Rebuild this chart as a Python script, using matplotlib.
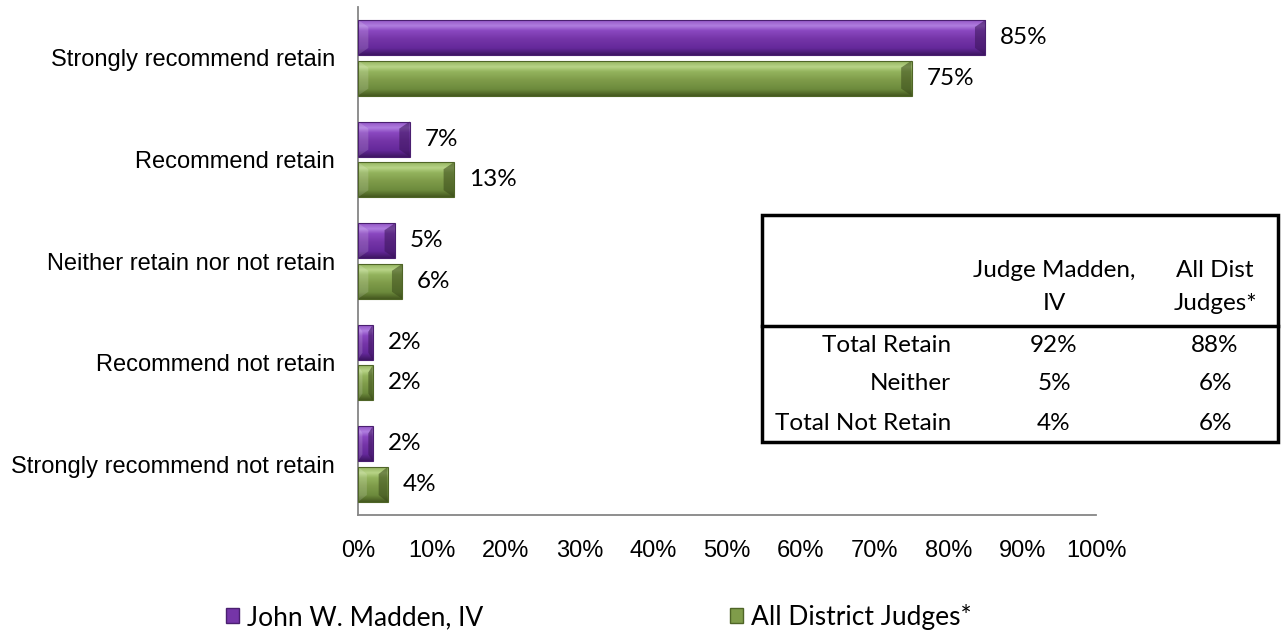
import numpy as np
import matplotlib
matplotlib.use("Agg")
import matplotlib.pyplot as plt
from matplotlib.patches import Patch, Rectangle
from matplotlib.colors import LinearSegmentedColormap
from matplotlib.lines import Line2D

categories = ["Strongly recommend retain", "Recommend retain", "Neither retain nor not retain",
              "Recommend not retain", "Strongly recommend not retain"]
madden = [85, 7, 5, 2, 2]
all_judges = [75, 13, 6, 2, 4]
series_names = ["John W. Madden, IV", "All District Judges*"]

table_header = ["Judge Madden,\nIV", "All Dist\nJudges*"]
table_rows = ["Total Retain", "Neither", "Total Not Retain"]
table_madden = ["92%", "5%", "4%"]
table_all = ["88%", "6%", "6%"]

W, H = 1287, 641
fig = plt.figure(figsize=(W / 100, H / 100), dpi=100)
ax = fig.add_axes([358 / W, 1 - 515 / H, (1096 - 358) / W, (515 - 7) / H])

# gradients, top -> bottom of each bar
purple_cmap = LinearSegmentedColormap.from_list("p", [
    (0.0, "#8e4fc0"), (0.18, "#b07ee0"), (0.32, "#8a48c0"),
    (0.55, "#7535a8"), (0.82, "#64289a"), (1.0, "#3f1663")])
green_cmap = LinearSegmentedColormap.from_list("g", [
    (0.0, "#8fae5a"), (0.18, "#b8d487"), (0.32, "#93b35d"),
    (0.55, "#7f9c4a"), (0.82, "#6c8a3c"), (1.0, "#45591f")])

y = np.arange(len(categories))
bar_h = 0.345
off = 0.2
grad = np.linspace(0, 1, 64).reshape(-1, 1)


def bevel_bars(values, ypos, cmap, edge, dark):
    bars = ax.barh(ypos, values, height=bar_h, color="none", edgecolor=edge, linewidth=0.8, zorder=3)
    for b in bars:
        x0, y0 = b.get_x(), b.get_y()
        w, h = b.get_width(), b.get_height()
        im = ax.imshow(grad, cmap=cmap, aspect="auto", extent=(x0, x0 + w, y0 + h, y0),
                       origin="upper", zorder=2, interpolation="bilinear")
        im.set_clip_path(b)
        ex = min(1.4, w * 0.3)
        # dark bevel on the right end, light one on the left
        ax.fill([x0 + w - ex, x0 + w, x0 + w, x0 + w - ex],
                [y0 + h * 0.2, y0, y0 + h, y0 + h * 0.8], color=dark, alpha=0.55, zorder=2.5, lw=0)
        ax.fill([x0, x0 + ex, x0 + ex, x0],
                [y0, y0 + h * 0.2, y0 + h * 0.8, y0 + h], color="white", alpha=0.15, zorder=2.5, lw=0)
    return bars


bevel_bars(madden, y - off, purple_cmap, "#4a1f70", "#3a1458")
bevel_bars(all_judges, y + off, green_cmap, "#4f6527", "#3a4a1a")

label_font = ["Lato", "DejaVu Sans"]
for i in range(len(categories)):
    ax.text(madden[i] + 2.0, y[i] - off, f"{madden[i]}%", va="center", ha="left",
            fontsize=17.5, family=label_font)
    ax.text(all_judges[i] + 2.0, y[i] + off, f"{all_judges[i]}%", va="center", ha="left",
            fontsize=17.5, family=label_font)

ax.set_xlim(0, 100)
ax.set_ylim(len(categories) - 0.5, -0.5)
ax.set_xticks(np.arange(0, 101, 10))
ax.set_xticklabels([f"{v}%" for v in range(0, 101, 10)], family="Liberation Sans", fontsize=17)
ax.set_yticks(y)
ax.set_yticklabels(categories, family="Liberation Sans", fontsize=17)
ax.tick_params(axis="x", length=0, pad=17.7)
ax.tick_params(axis="y", length=0, pad=16.5)
for s in ["top", "right"]:
    ax.spines[s].set_visible(False)
for s in ["left", "bottom"]:
    ax.spines[s].set_color("#868686")
    ax.spines[s].set_linewidth(1.3)

# summary table
tx0, tx1, ty0, ty1 = 762 / W, 1278 / W, 1 - 442 / H, 1 - 215 / H
fig.patches.append(Rectangle((tx0, ty0), tx1 - tx0, ty1 - ty0, transform=fig.transFigure,
                             fill=False, edgecolor="black", linewidth=2.5, zorder=5))
fig.lines.append(Line2D([tx0, tx1], [1 - 326 / H, 1 - 326 / H], transform=fig.transFigure,
                        color="black", linewidth=2.5))
col2_x, col3_x, rowlab_x = 1054 / W, 1215 / W, 951 / W
for cx, head in zip([col2_x, col3_x], table_header):
    fig.text(cx, 1 - 287 / H, head, ha="center", va="center", fontsize=17.5,
             family=label_font, linespacing=1.65)
row_y = [346, 384, 423]
for r, lab in enumerate(table_rows):
    fig.text(rowlab_x, 1 - row_y[r] / H, lab, ha="right", va="center", fontsize=17.5, family=label_font)
    fig.text(col2_x, 1 - row_y[r] / H, table_madden[r], ha="center", va="center", fontsize=17.5, family=label_font)
    fig.text(col3_x, 1 - row_y[r] / H, table_all[r], ha="center", va="center", fontsize=17.5, family=label_font)

handles = [Patch(facecolor="#7535a8", edgecolor="#4a1f70"), Patch(facecolor="#7f9c4a", edgecolor="#4f6527")]
fig.legend(handles, series_names, loc="center left", bbox_to_anchor=(226 / W, 1 - 617 / H), ncol=2,
           frameon=False, prop={"family": label_font, "size": 19}, handlelength=0.5, handleheight=0.5,
           handletextpad=0.3, columnspacing=9.35, borderpad=0, borderaxespad=0)

fig.savefig("out.png", dpi=100)
